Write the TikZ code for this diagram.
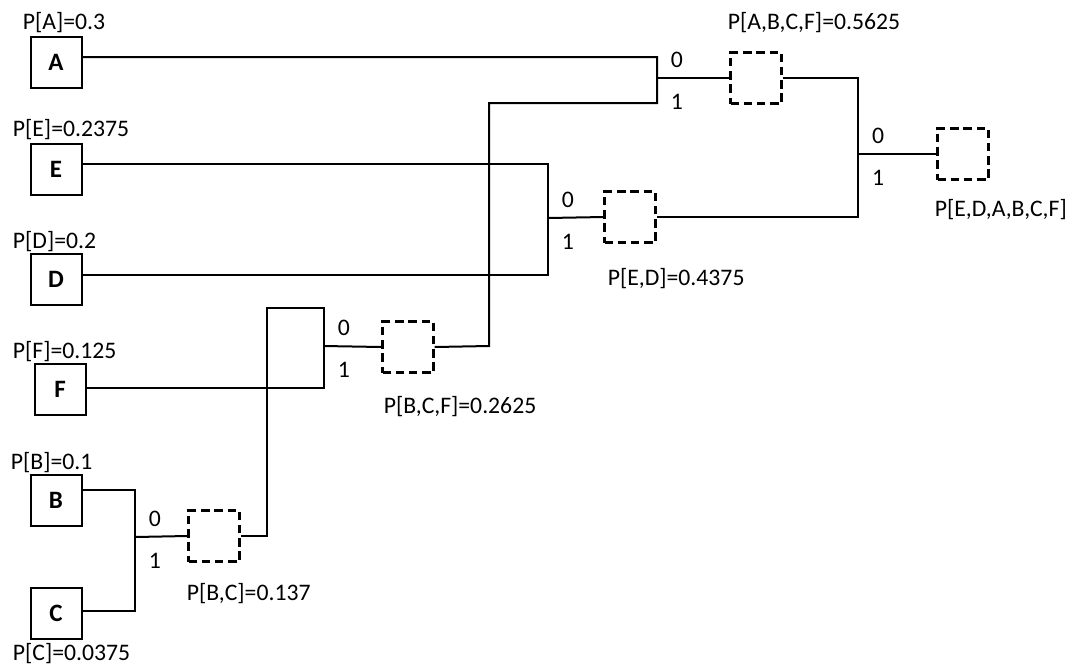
\documentclass[tikz,border=0pt]{standalone}
\usepackage{fontspec}
\setmainfont{Carlito}
\usetikzlibrary{positioning}
\tikzset{
  leaf/.style={
    draw=black,
    line width=1pt,
    minimum size=25.5pt,
    inner sep=0pt,
    font=\fontsize{12.5}{14}\selectfont\bfseries
  },
  merged/.style={
    draw=black,
    line width=1.1pt,
    dash pattern=on 4.2pt off 2.4pt,
    minimum size=25.5pt,
    inner sep=0pt
  },
  wire/.style={
    line width=1pt,
    draw=black
  },
  prob/.style={
    inner sep=1pt,
    font=\fontsize{11.85}{14}\selectfont
  },
  bit/.style={
    inner sep=0pt,
    font=\fontsize{11.85}{14}\selectfont
  }
}
\begin{document}
\begin{tikzpicture}[x=0.5pt,y=-0.5pt]
  \useasboundingbox (0,0) rectangle (1072,666);

  % leaf symbols
  \node[leaf] (A) at (56,62) {A};
  \node[leaf, below=27pt of A] (E) {E};
  \node[leaf, below=28.5pt of E] (D) {D};
  \node[leaf, below=28.5pt of D, xshift=2pt] (F) {F};
  \node[leaf, below=29pt of F, xshift=-2pt] (B) {B};
  \node[leaf, below=30pt of B] (C) {C};

  \node[prob, anchor=south west] (pA) at ([xshift=-4.5pt]A.north west) {P[A]=0.3};
  \node[prob, anchor=south west] (pE) at ([xshift=-9.5pt]E.north west) {P[E]=0.2375};
  \node[prob, anchor=south west] (pD) at ([xshift=-9.5pt,yshift=-1pt]D.north west) {P[D]=0.2};
  \node[prob, anchor=south west] (pF) at ([xshift=-11.5pt,yshift=-1pt]F.north west) {P[F]=0.125};
  \node[prob, anchor=south west] (pB) at ([xshift=-10.5pt,yshift=-1pt]B.north west) {P[B]=0.1};
  \node[prob, anchor=north west] (pC) at ([xshift=-9.5pt,yshift=-0.5pt]C.south west) {P[C]=0.0375};

  % merged symbols
  \node[merged] (BC) at (214,536) {};
  \node[merged] (BCF) at (408,347) {};
  \node[merged] (ED) at (630,217) {};
  \node[merged] (ABCF) at (756,78) {};
  \node[merged] (all) at (963,154) {};

  \node[prob, anchor=north west] (pBC) at ([xshift=-1.5pt,yshift=-9pt]BC.south west) {P[B,C]=0.137};
  \node[prob, anchor=north west] (pBCF) at ([yshift=-10pt]BCF.south west) {P[B,C,F]=0.2625};
  \node[prob, anchor=north west] (pED) at ([xshift=1pt,yshift=-11pt]ED.south west) {P[E,D]=0.4375};
  \node[prob, anchor=south west] (pABCF) at ([xshift=-2pt,yshift=8pt]ABCF.north west) {P[A,B,C,F]=0.5625};
  \node[prob, anchor=north west] (pall) at ([xshift=-2pt,yshift=-8pt]all.south west) {P[E,D,A,B,C,F]};

  % junctions
  \coordinate (kBC) at (135,537);
  \coordinate (kBCF) at (324,346);
  \coordinate (kED) at (548,218);
  \coordinate (kA) at (657,78);
  \coordinate (kAll) at (858,154);

  \draw[wire] ([yshift=5pt]B.east) -| (kBC) |- ([yshift=1pt]C.east);
  \draw[wire] (kBC) -- (BC.west);
  \draw[wire] ([yshift=0.5pt]F.east) -| (kBCF) -- ++(0,-38) -- ++(-57,0) |- (BC.east);
  \draw[wire] (kBCF) -- (BCF.west);
  \draw[wire] ([yshift=2.5pt]E.east) -| (kED) |- ([yshift=2pt]D.east);
  \draw[wire] (kED) -- (ED.west);
  \draw[wire] ([yshift=2.5pt]A.east) -| (kA) -- ++(0,25) -| (489,346) -- (BCF.east);
  \draw[wire] (kA) -- (ABCF.west);
  \draw[wire] (ABCF.east) -| (kAll) |- (ED.east);
  \draw[wire] (kAll) -- (all.west);

  \foreach \k in {kBC,kBCF,kED,kA,kAll} {
    \node[bit] (\k0) at ([shift={(10pt,9pt)}]\k) {0};
    \node[bit] (\k1) at ([shift={(10pt,-12pt)}]\k) {1};
  }
\end{tikzpicture}
\end{document}
